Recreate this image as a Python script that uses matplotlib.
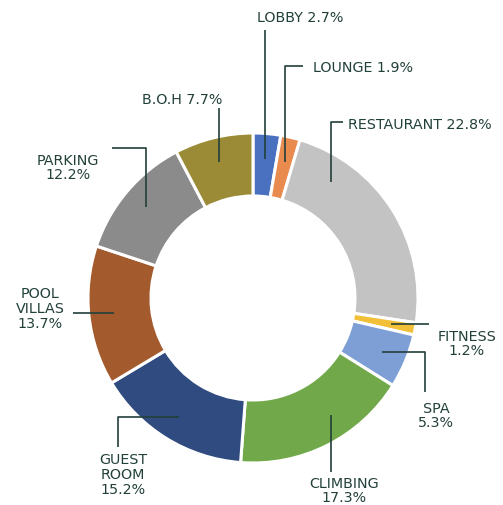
import numpy as np
import matplotlib.pyplot as plt

# area share by zone, clockwise from 12 o'clock
zones = ["LOBBY", "LOUNGE", "RESTAURANT", "FITNESS", "SPA",
         "CLIMBING", "GUEST ROOM", "POOL VILLAS", "PARKING", "B.O.H"]
shares = [2.7, 1.9, 22.8, 1.2, 5.3, 17.3, 15.2, 13.7, 12.2, 7.7]
colors = ["#4a70c0", "#e98a4e", "#c3c3c3", "#f1c038", "#7d9fd6",
          "#70a84a", "#2f4b80", "#a35a2c", "#8b8b8b", "#9b8a36"]
label_text = ["LOBBY 2.7%", "LOUNGE 1.9%", "RESTAURANT 22.8%", "FITNESS\n1.2%",
              "SPA\n5.3%", "CLIMBING\n17.3%", "GUEST\nROOM\n15.2%",
              "POOL\nVILLAS\n13.7%", "PARKING\n12.2%", "B.O.H 7.7%"]

# label placement (pixels): text anchor, alignment, where along the wedge
# the leader starts (0..1), and leader legs ('v', y) / ('h', x)
layout = [
    dict(xy=(257, 18), ha="left", at=0.5, legs=[("v", 30)]),
    dict(xy=(313, 68), ha="left", at=0.5, legs=[("v", 66), ("h", 303)]),
    dict(xy=(348, 125), ha="left", at=0.21, legs=[("v", 122), ("h", 343)]),
    dict(xy=(467, 344), ha="center", at=0.5, legs=[("h", 429)]),
    dict(xy=(436, 416), ha="center", at=0.5, legs=[("h", 425), ("v", 392)]),
    dict(xy=(344, 491), ha="center", at=0.39, legs=[("v", 472)]),
    dict(xy=(123, 475), ha="center", at=0.5, legs=[("h", 118), ("v", 447)]),
    dict(xy=(40, 309), ha="center", at=0.5, legs=[("h", 73)]),
    dict(xy=(68, 168), ha="center", at=0.5, legs=[("v", 148), ("h", 112)]),
    dict(xy=(142, 100), ha="left", at=0.5, legs=[("v", 108)]),
]

ink = "#22403a"
W, H = 503, 505
cx, cy, R, ring = 253, 298, 165, 63

fig = plt.figure(figsize=(W / 100, H / 100), dpi=100)
ax = fig.add_axes([0, 0, 1, 1])

# y runs downward, so start at -90 and go counterclockwise in data terms
wedges, _ = ax.pie(shares, colors=colors, center=(cx, cy), radius=R,
                   startangle=-90, counterclock=True,
                   wedgeprops=dict(width=ring, edgecolor="white", linewidth=2.2))

ax.set_xlim(0, W)
ax.set_ylim(H, 0)
ax.set_aspect("equal")
ax.axis("off")

for w, txt, lay in zip(wedges, label_text, layout):
    ang = np.deg2rad(w.theta1 + lay["at"] * (w.theta2 - w.theta1))
    x, y = cx + 140 * np.cos(ang), cy + 140 * np.sin(ang)
    xs, ys = [x], [y]
    for kind, v in lay["legs"]:
        if kind == "v":
            y = v
        else:
            x = v
        xs.append(x)
        ys.append(y)
    ax.plot(xs, ys, color=ink, lw=1.2, solid_capstyle="butt")
    ax.text(*lay["xy"], txt, ha=lay["ha"], va="center", color=ink,
            fontsize=10.3, linespacing=1.05)

fig.savefig("out.png", dpi=100, facecolor="white")
